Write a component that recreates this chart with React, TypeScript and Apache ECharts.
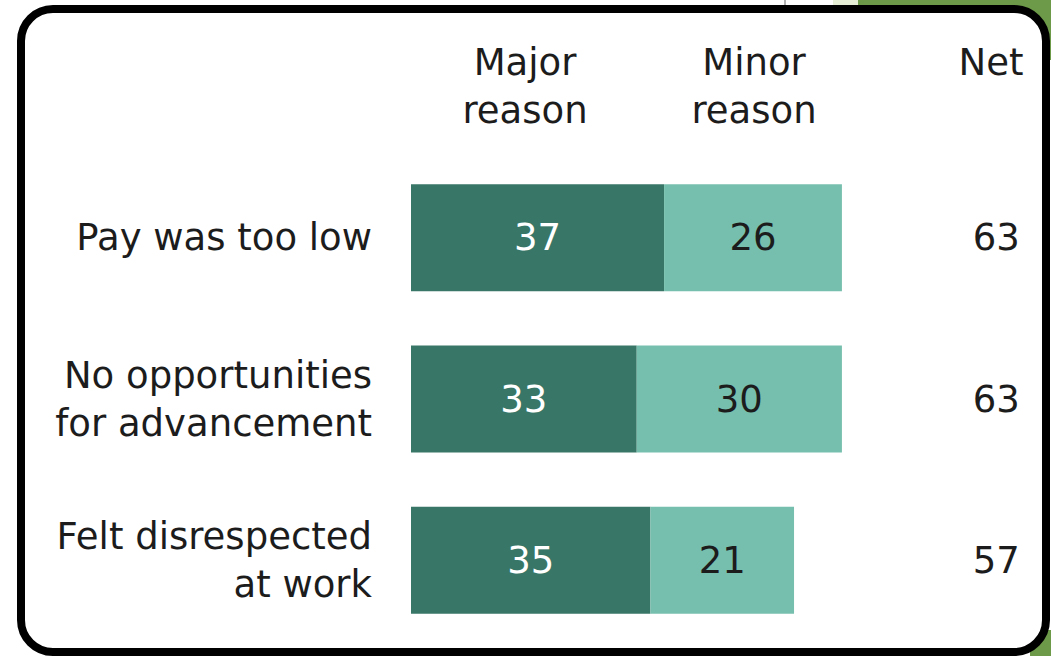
import React, { useEffect, useRef } from "react";
import * as echarts from "echarts";

const categories = ["Pay was too low", "No opportunities\nfor advancement", "Felt disrespected\nat work"];
const majorValues = [37, 33, 35];
const minorValues = [26, 30, 21];
const netValues = [63, 63, 57];
const headers = ["Major\nreason", "Minor\nreason", "Net"];

const FONT = "'DejaVu Sans', 'Liberation Sans', Arial, sans-serif";
const TEXT = "#1c1c1c";
const DARK = "#387667";
const LIGHT = "#76bfae";

export default function App() {
  const ref = useRef<HTMLDivElement>(null);
  useEffect(() => {
    if (!ref.current) return;
    const chart = echarts.init(ref.current, null, { renderer: "svg" });
    const gridLeft = 411;
    const pxPerUnit = 6.84;
    const xMax = 80;
    const gridWidth = xMax * pxPerUnit;
    chart.setOption({
      animation: false,
      backgroundColor: "#ffffff",
      grid: { left: gridLeft, top: 157, width: gridWidth, height: 484, containLabel: false },
      xAxis: { type: "value", min: 0, max: xMax, show: false },
      yAxis: [
        {
          type: "category",
          data: categories,
          inverse: true,
          z: 20,
          axisLine: { show: false },
          axisTick: { show: false },
          splitLine: { show: false },
          axisLabel: {
            margin: 39,
            fontSize: 37,
            fontFamily: FONT,
            color: TEXT,
            lineHeight: 48,
            align: "right",
          },
        },
        {
          type: "category",
          data: netValues.map(String),
          inverse: true,
          position: "right",
          z: 20,
          axisLine: { show: false },
          axisTick: { show: false },
          splitLine: { show: false },
          axisLabel: {
            margin: 38,
            fontSize: 37,
            fontFamily: FONT,
            color: TEXT,
            align: "center",
          },
        },
      ],
      graphic: [
        { type: "rect", z: 0, shape: { x: 858, y: 0, width: 193, height: 60 }, style: { fill: "#6c9a48" } },
        { type: "rect", z: 0, shape: { x: 833, y: 0, width: 25, height: 12 }, style: { fill: "#e6efd6" } },
        { type: "rect", z: 0, shape: { x: 1030, y: 630, width: 21, height: 26 }, style: { fill: "#6c9a48" } },
        { type: "line", z: 0, shape: { x1: 785, y1: 0, x2: 785, y2: 8 }, style: { stroke: "#999", lineWidth: 1.5 } },
        {
          type: "rect",
          z: 1,
          shape: { x: 21, y: 9, width: 1025, height: 643, r: 32 },
          style: { fill: "#ffffff", stroke: "#000000", lineWidth: 8 },
        },
        {
          type: "text", z: 10,
          style: { text: headers[0], x: 525, y: 86, align: "center", verticalAlign: "middle", fontSize: 37, fontFamily: FONT, lineHeight: 48, fill: TEXT },
        },
        {
          type: "text", z: 10,
          style: { text: headers[1], x: 754, y: 86, align: "center", verticalAlign: "middle", fontSize: 37, fontFamily: FONT, lineHeight: 48, fill: TEXT },
        },
        {
          type: "text", z: 10,
          style: { text: headers[2], x: 991, y: 62, align: "center", verticalAlign: "middle", fontSize: 37, fontFamily: FONT, lineHeight: 48, fill: TEXT },
        },
      ],
      series: [
        {
          type: "bar",
          stack: "total",
          data: majorValues,
          barWidth: 107,
          z: 5,
          itemStyle: { color: DARK },
          label: { show: true, position: "inside", color: "#ffffff", fontSize: 37, fontFamily: FONT },
        },
        {
          type: "bar",
          stack: "total",
          data: minorValues,
          barWidth: 107,
          z: 5,
          itemStyle: { color: LIGHT },
          label: { show: true, position: "inside", color: TEXT, fontSize: 37, fontFamily: FONT },
        },
      ],
    });
    return () => chart.dispose();
  }, []);
  return (
    <div
      ref={ref}
      style={{ position: "fixed", left: 0, top: 0, width: 1051, height: 656 }}
    />
  );
}
